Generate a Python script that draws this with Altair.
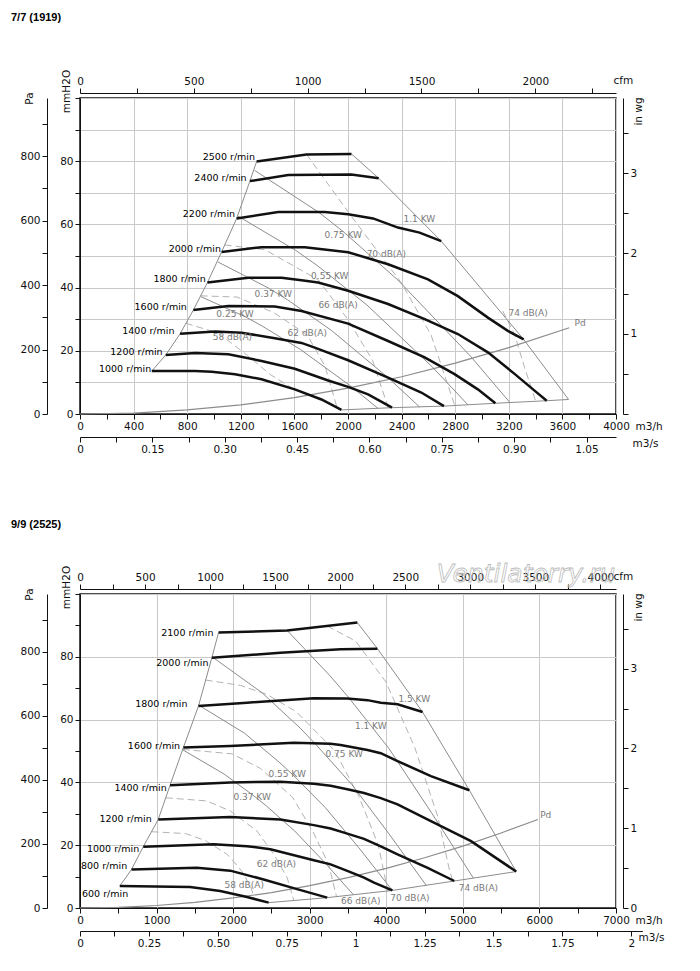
import altair as alt
import pandas as pd

# ---------------- unit conversions ----------------
M3H_PER_M3S = 3600.0
M3H_PER_CFM = 1.699
PA_PER_MMH2O = 9.80665
MMH2O_PER_INWG = 25.4

W = 536

# ================= chart A : 7/7 (1919) =================
A_TITLE = "7/7 (1919)"
A_QMAX = 4000
A_PMAX = 100
A_SPEED = {
    "1000": ([536, 859, 983, 1157, 1355, 1603, 1802, 1951], [13.6, 13.6, 13.4, 12.6, 11.0, 7.8, 4.6, 1.3]),
    "1200": ([640, 859, 1107, 1355, 1603, 1852, 2001, 2150, 2329], [18.7, 19.3, 18.9, 16.8, 14.3, 10.6, 8.6, 6.2, 2.0]),
    "1400": ([747, 1008, 1206, 1454, 1653, 1752, 2001, 2299, 2547, 2716], [25.4, 26.1, 25.7, 24.0, 22.5, 21.0, 17.0, 11.5, 6.8, 2.5]),
    "1600": ([846, 1107, 1454, 1653, 2001, 2299, 2572, 2795, 2969, 3100], [32.9, 34.2, 34.0, 32.6, 28.6, 23.1, 17.9, 12.6, 7.8, 3.4]),
    "1800": ([951, 1256, 1504, 1653, 1777, 2001, 2299, 2572, 2820, 3044, 3243, 3392, 3483], [41.6, 43.1, 43.1, 42.3, 41.6, 39.0, 34.8, 30.0, 25.3, 19.5, 12.7, 7.4, 4.2]),
    "2000": ([1057, 1355, 1678, 2001, 2299, 2597, 2820, 3044, 3193, 3311], [51.3, 52.8, 52.8, 51.2, 47.4, 42.6, 37.3, 30.5, 26.3, 23.6]),
    "2200": ([1169, 1479, 1827, 2001, 2187, 2373, 2534, 2696], [61.9, 63.9, 63.9, 63.2, 61.9, 59.0, 57.4, 54.7]),
    "2400": ([1268, 1554, 2025, 2229], [73.7, 75.6, 75.8, 74.6]),
    "2500": ([1318, 1690, 2026], [79.9, 82.1, 82.3]),
}
A_RIGHT = ([2026, 2229, 2696, 3311, 3646], [82.3, 74.6, 54.7, 23.6, 4.6])
A_BOTTOM = ([1951, 2329, 2716, 3100, 3483, 3646], [1.3, 2.0, 2.5, 3.4, 4.2, 4.6])
A_POWER = {
    "0.25": ([904, 1237, 1361, 1646, 2021, 2226], [37.1, 30.7, 27.8, 20.4, 8.8, 1.7]),
    "0.37": ([1030, 1409, 1550, 1875, 2302, 2535], [48.1, 39.8, 36.1, 26.5, 11.4, 2.2]),
    "0.55": ([1176, 1609, 1770, 2141, 2629, 2895], [62.7, 51.8, 47.0, 34.5, 14.9, 2.9]),
    "0.75": ([1303, 1783, 1962, 2372, 2914, 3209], [77.1, 63.8, 57.8, 42.4, 18.3, 3.6]),
}
A_DB = {
    "58": ([790, 1033, 1250, 1420, 1590], [28.7, 25.6, 18.5, 12.5, 8.0]),
    "62": ([900, 1173, 1450, 1696, 1830, 1917], [37.4, 37.0, 32.0, 25.0, 15.0, 2.2]),
    "66": ([1080, 1380, 1777, 1998, 2183, 2300], [53.5, 52.0, 42.5, 30.0, 17.0, 2.0]),
    "70": ([1690, 2026, 2398, 2620, 2795], [82.2, 62.5, 41.5, 25.0, 2.9]),
    "74": ([3155, 3243, 3318, 3400], [32.6, 25.2, 14.7, 4.1]),
}
A_PD = ([0, 400, 800, 1200, 1600, 2000, 2400, 2800, 3200, 3651], [0, 0.3, 1.3, 2.9, 5.2, 8.2, 11.8, 16.1, 21.0, 27.3])
A_RPM_TEXT = ["2500 r/min", "2400 r/min", "2200 r/min", "2000 r/min", "1800 r/min", "1600 r/min", "1400 r/min", "1200 r/min", "1000 r/min"]
A_RPM_Q = [1306, 1243, 1157, 1052, 938, 797, 705, 616, 531]
A_RPM_P = [81.3, 74.8, 63.2, 52.3, 42.8, 34.0, 26.3, 19.7, 14.1]
A_NOTE_TEXT = ["0.25  KW", "0.37  KW", "0.55  KW", "0.75  KW", "1.1  KW", "58  dB(A)", "62  dB(A)", "66  dB(A)", "70  dB(A)", "74  dB(A)"]
A_NOTE_Q = [1157, 1442, 1864, 1964, 2532, 1137, 1696, 1926, 2286, 3344]
A_NOTE_P = [31.5, 38.1, 43.7, 56.5, 61.8, 24.5, 25.7, 34.5, 50.5, 32.1]
A_PD_LABEL = ("Pd", 3690, 28.8)

A_M3H_TICKS = list(range(0, 4001, 200))
A_M3H_LABELS = list(range(0, 4001, 400))
A_M3S_TICKS = [round(i * 0.075, 4) for i in range(15)]
A_M3S_VALS = [0, 0.15, 0.30, 0.45, 0.60, 0.75, 0.90, 1.05]
A_M3S_TXT = ["0", "0.15", "0.30", "0.45", "0.60", "0.75", "0.90", "1.05"]
A_CFM_TICKS = list(range(0, 2251, 250))
A_CFM_LABELS = [0, 500, 1000, 1500, 2000]
A_INWG_TXT = ["1", "2", "3"]

# ================= chart B : 9/9 (2525) =================
B_TITLE = "9/9 (2525)"
B_QMAX = 7000
B_PMAX = 100
B_SPEED = {
    "600": ([520, 1438, 1831, 2181, 2464], [7.0, 6.7, 5.4, 3.5, 1.7]),
    "800": ([673, 1525, 1962, 2398, 2835, 3229], [12.3, 12.8, 11.9, 9.1, 6.0, 3.3]),
    "1000": ([826, 1743, 2181, 2486, 3054, 3273, 3491, 3709, 3840, 4080], [19.5, 20.3, 19.7, 18.7, 15.2, 13.9, 11.8, 9.7, 8.1, 5.6]),
    "1200": ([1022, 1962, 2617, 3054, 3273, 3491, 3709, 3928, 4147, 4540, 4889], [28.2, 29.0, 28.2, 26.4, 25.3, 23.7, 22.0, 19.6, 17.1, 12.8, 8.6]),
    "1400": ([1176, 1962, 2617, 3054, 3273, 3491, 3709, 3928, 4147, 4583, 5107, 5697], [39.1, 40.0, 40.2, 39.6, 38.9, 37.8, 36.6, 35.0, 33.0, 27.7, 21.3, 11.6]),
    "1600": ([1350, 1962, 2792, 3273, 3404, 3754, 3928, 4147, 4583, 5085], [51.1, 51.6, 52.6, 52.3, 51.9, 50.3, 49.3, 46.8, 42.0, 37.5]),
    "1800": ([1547, 2181, 3054, 3491, 3754, 3928, 4147, 4474], [64.3, 65.4, 66.8, 66.7, 66.2, 65.4, 64.9, 62.4]),
    "2000": ([1722, 2617, 3404, 3884], [79.7, 81.3, 82.4, 82.6]),
    "2100": ([1809, 2705, 3622], [87.7, 88.4, 90.9]),
}
B_RIGHT = ([3622, 3884, 4474, 5085, 5697], [90.9, 82.6, 62.4, 37.5, 11.6])
B_BOTTOM = ([2464, 3229, 4080, 4889, 5697], [1.7, 3.3, 5.6, 8.6, 11.6])
B_POWER = {
    "0.37": ([1340, 1880, 2271, 2435, 2805, 3188, 3572], [50.4, 42.7, 35.7, 32.5, 24.5, 14.7, 4.2]),
    "0.55": ([1550, 2147, 2594, 2781, 3203, 3641, 4079], [64.6, 55.7, 46.6, 42.4, 32.0, 19.2, 5.6]),
    "0.75": ([1725, 2380, 2875, 3083, 3551, 4036, 4522], [80.0, 68.5, 57.3, 52.0, 39.3, 23.6, 7.2]),
    "1.1": ([2705, 3267, 3503, 4035, 4586, 5138], [88.4, 73.9, 67.2, 50.8, 30.5, 9.5]),
}
B_DB = {
    "58": ([935, 1380, 1635, 1927, 2108, 2230, 2280], [24.3, 23.7, 21.5, 17.0, 11.9, 6.7, 2.9]),
    "62": ([1120, 1656, 1962, 2312, 2530, 2705, 2792], [35.1, 34.1, 30.9, 24.5, 17.1, 9.7, 2.4]),
    "66": ([1341, 1987, 2354, 2774, 3036, 3246, 3350], [50.5, 49.1, 44.5, 35.3, 24.6, 14.0, 3.6]),
    "70": ([1641, 2093, 2443, 2825, 3329, 3643, 3895, 4020], [72.6, 70.9, 68.0, 62.5, 50.0, 35.5, 20.1, 5.4]),
    "74": ([3229, 3600, 3995, 4372, 4674, 4825, 4870], [89.8, 85.0, 72.0, 51.1, 29.0, 12.0, 8.6]),
}
B_PD = ([0, 500, 1000, 1500, 2000, 2500, 3000, 3500, 4000, 4500, 5000, 5500, 5980],
        [0, 0.2, 0.8, 1.8, 3.2, 4.9, 7.1, 9.7, 12.6, 16.0, 19.7, 23.9, 28.2])
B_RPM_TEXT = ["2100 r/min", "2000 r/min", "1800 r/min", "1600 r/min", "1400 r/min", "1200 r/min", "1000 r/min", "800 r/min", "600 r/min"]
B_RPM_Q = [1743, 1678, 1403, 1307, 1132, 936, 773, 616, 629]
B_RPM_P = [87.7, 78.1, 64.9, 51.6, 38.3, 28.2, 18.7, 13.4, 4.4]
B_NOTE_TEXT = ["0.37  KW", "0.55  KW", "0.75  KW", "1.1  KW", "1.5  KW", "58  dB(A)", "62  dB(A)", "66  dB(A)", "70  dB(A)", "74  dB(A)"]
B_NOTE_Q = [2248, 2705, 3450, 3797, 4365, 2145, 2565, 3666, 4308, 5203]
B_NOTE_P = [35.4, 42.8, 49.1, 58.0, 66.5, 7.2, 13.9, 2.2, 3.1, 6.5]
B_PD_LABEL = ("Pd", 6010, 29.6)
B_WATERMARK = ("Ventilatorry.ru", 5825, 106.4)

B_M3H_TICKS = list(range(0, 7001, 500))
B_M3H_LABELS = list(range(0, 7001, 1000))
B_M3S_TICKS = [i * 0.125 for i in range(17)]
B_M3S_VALS = [0, 0.25, 0.5, 0.75, 1, 1.25, 1.5, 1.75, 2]
B_M3S_TXT = ["0", "0.25", "0.50", "0.75", "1", "1.25", "1.5", "1.75", "2"]
B_CFM_TICKS = list(range(0, 4001, 250))
B_CFM_LABELS = list(range(0, 4001, 500))
B_INWG_TXT = ["0", "1", "2", "3"]

# shared axes ticks
MM_TICKS = list(range(0, 101, 10))
MM_LABELS = [0, 20, 40, 60, 80]
PA_TICKS = list(range(0, 901, 100))
PA_LABELS = [0, 200, 400, 600, 800]
INWG_TICKS = [i * 0.5 for i in range(8)]

FONT = "DejaVu Sans"
AX = dict(labelFont=FONT, labelFontSize=10.5, titleFont=FONT, titleFontSize=10.5,
          titleFontWeight="normal", labelColor="#111", titleColor="#111",
          domainColor="#111", tickColor="#111", tickSize=5, labelPadding=2,
          labelFlush=False, labelOverlap=False)


def lab_expr(vals, texts, mult):
    s = "''"
    for v, t in reversed(list(zip(vals, texts))):
        s = f"(round(datum.value*{mult})=={round(v * mult)} ? '{t}' : {s})"
    return s


def make_axis(orient, ticks, lab_vals, lab_txt, mult, title, tx, ty, angle=0,
              align="left", offset=0, grid_step=None):
    kw = dict(AX)
    kw.update(orient=orient, values=ticks, labelExpr=lab_expr(lab_vals, lab_txt, mult),
              title=title, titleX=tx, titleY=ty, titleAngle=angle, titleAlign=align,
              titleBaseline="middle", offset=offset)
    if grid_step:
        kw.update(grid=True, gridColor="#c9c9c9", gridWidth=1,
                  gridOpacity={"condition": {"test": f"datum.value % {grid_step} == 0", "value": 1},
                               "value": 0})
    else:
        kw.update(grid=False)
    return alt.Axis(**kw)


def series_df(d):
    rows = []
    for name, (qs, ps) in d.items():
        for i, (q, p) in enumerate(zip(qs, ps)):
            rows.append({"s": name, "i": i, "q": q, "p": p})
    return pd.DataFrame(rows)


def panel(title, qmax, pmax, height, speed, right, bottom, power, db, pdc,
          rpm, notes, pd_label, m3h_ticks, m3h_labels, m3h_grid, mm_grid,
          m3s_ticks, m3s_vals, m3s_txt, m3s_max, cfm_ticks, cfm_labels,
          inwg_txt, title_offset, m3s_title_x, watermark=None):
    ex = alt.X("q:Q", scale=alt.Scale(domain=[0, qmax], nice=False),
               axis=make_axis("bottom", m3h_ticks, m3h_labels, [str(v) for v in m3h_labels], 1,
                              "m3/h", W + 19, 12, grid_step=m3h_grid))
    ey = alt.Y("p:Q", scale=alt.Scale(domain=[0, pmax], nice=False),
               axis=make_axis("left", MM_TICKS, MM_LABELS, [str(v) for v in MM_LABELS], 1,
                              "mmH2O", -14, -7, angle=270, align="center", grid_step=mm_grid))

    left = {"left": ([v[0][0] for v in speed.values()], [v[1][0] for v in speed.values()])}
    bounds = dict(left)
    bounds["right"] = right
    bounds["bottom"] = bottom

    layers = [
        alt.Chart(series_df(db)).mark_line(color="#b3b3b3", strokeWidth=1, strokeDash=[7, 4])
        .encode(x=ex, y=ey, detail="s:N", order="i:Q"),
        alt.Chart(series_df(power)).mark_line(color="#8c8c8c", strokeWidth=1)
        .encode(x=ex, y=ey, detail="s:N", order="i:Q"),
        alt.Chart(series_df(bounds)).mark_line(color="#8c8c8c", strokeWidth=1)
        .encode(x=ex, y=ey, detail="s:N", order="i:Q"),
        alt.Chart(series_df({"pd": pdc})).mark_line(color="#8c8c8c", strokeWidth=1.2)
        .encode(x=ex, y=ey, detail="s:N", order="i:Q"),
        alt.Chart(series_df(speed)).mark_line(color="#111", strokeWidth=2.5)
        .encode(x=ex, y=ey, detail="s:N", order="i:Q"),
        alt.Chart(pd.DataFrame({"t": rpm[0], "q": rpm[1], "p": rpm[2]}))
        .mark_text(align="right", baseline="middle", font=FONT, fontSize=9.5, color="#000")
        .encode(x=ex, y=ey, text="t:N"),
        alt.Chart(pd.DataFrame({"t": notes[0], "q": notes[1], "p": notes[2]}))
        .mark_text(align="center", baseline="middle", font=FONT, fontSize=9, color="#7a7a7a")
        .encode(x=ex, y=ey, text="t:N"),
        alt.Chart(pd.DataFrame({"t": [pd_label[0]], "q": [pd_label[1]], "p": [pd_label[2]]}))
        .mark_text(align="left", baseline="middle", font=FONT, fontSize=9, color="#7a7a7a")
        .encode(x=ex, y=ey, text="t:N"),
    ]
    if watermark:
        layers.append(
            alt.Chart(pd.DataFrame({"t": [watermark[0]], "q": [watermark[1]], "p": [watermark[2]]}))
            .mark_text(align="center", baseline="middle", font=FONT, fontSize=25, fontStyle="italic",
                       fillOpacity=0, stroke="#bdbdbd", strokeWidth=0.8)
            .encode(x=ex, y=ey, text="t:N"))
    main = alt.layer(*layers)

    # secondary axes: m3/s (bottom) + Pa (left)
    m3s_dom = qmax / M3H_PER_M3S
    if m3s_max > m3s_dom:
        m3s_scale = alt.Scale(domain=[0, m3s_max], range=[0, m3s_max * M3H_PER_M3S / qmax * W], nice=False)
    else:
        m3s_scale = alt.Scale(domain=[0, m3s_dom], nice=False)
    pa_max = pmax * PA_PER_MMH2O
    sec1 = alt.Chart(pd.DataFrame({"a": [0, 0.0], "b": [0, 0.0]})).mark_point(opacity=0).encode(
        x=alt.X("a:Q", scale=m3s_scale,
                axis=make_axis("bottom", m3s_ticks, m3s_vals, m3s_txt, 1000, "m3/s",
                               m3s_title_x, 6, offset=23)),
        y=alt.Y("b:Q", scale=alt.Scale(domain=[0, pa_max], nice=False),
                axis=make_axis("left", PA_TICKS, PA_LABELS, [str(v) for v in PA_LABELS], 1,
                               "Pa", -18, 0, angle=270, align="center", offset=33)),
    )
    # secondary axes: cfm (top) + in wg (right)
    cfm_max = qmax / M3H_PER_CFM
    inwg_max = pmax / MMH2O_PER_INWG
    inwg_vals = [float(t) for t in inwg_txt]
    sec2 = alt.Chart(pd.DataFrame({"c": [0, 0.0], "d": [0, 0.0]})).mark_point(opacity=0).encode(
        x=alt.X("c:Q", scale=alt.Scale(domain=[0, cfm_max], nice=False),
                axis=make_axis("top", cfm_ticks, cfm_labels, [str(v) for v in cfm_labels], 1,
                               "cfm", W - 3, -13, offset=5)),
        y=alt.Y("d:Q", scale=alt.Scale(domain=[0, inwg_max], nice=False),
                axis=make_axis("right", INWG_TICKS, inwg_vals, inwg_txt, 10,
                               "in wg", 15, 13, angle=270, align="center", offset=7)),
    )
    return alt.layer(main, sec1, sec2).resolve_scale(x="independent", y="independent").properties(
        width=W, height=height,
        title=alt.TitleParams(text=title, anchor="start", frame="group", dx=-69, offset=title_offset,
                              font="Liberation Sans", fontSize=11, fontWeight="bold", color="#000"))


top = panel(A_TITLE, A_QMAX, A_PMAX, 316, A_SPEED, A_RIGHT, A_BOTTOM, A_POWER, A_DB, A_PD,
            (A_RPM_TEXT, A_RPM_Q, A_RPM_P), (A_NOTE_TEXT, A_NOTE_Q, A_NOTE_P), A_PD_LABEL,
            A_M3H_TICKS, A_M3H_LABELS, 400, 10,
            A_M3S_TICKS, A_M3S_VALS, A_M3S_TXT, 0, A_CFM_TICKS, A_CFM_LABELS,
            A_INWG_TXT, 46, W + 16)

bottom = panel(B_TITLE, B_QMAX, B_PMAX, 314, B_SPEED, B_RIGHT, B_BOTTOM, B_POWER, B_DB, B_PD,
               (B_RPM_TEXT, B_RPM_Q, B_RPM_P), (B_NOTE_TEXT, B_NOTE_Q, B_NOTE_P), B_PD_LABEL,
               B_M3H_TICKS, B_M3H_LABELS, 1000, 20,
               B_M3S_TICKS, B_M3S_VALS, B_M3S_TXT, 2.04, B_CFM_TICKS, B_CFM_LABELS,
               B_INWG_TXT, 32, W + 22, watermark=B_WATERMARK)

chart = alt.vconcat(top, bottom, spacing=62).properties(
    padding={"left": 2, "top": 3, "right": 5, "bottom": 5}
).configure_view(stroke="#111", strokeWidth=1.5)

chart.save("out.html", embed_options={"renderer": "svg", "actions": False})
